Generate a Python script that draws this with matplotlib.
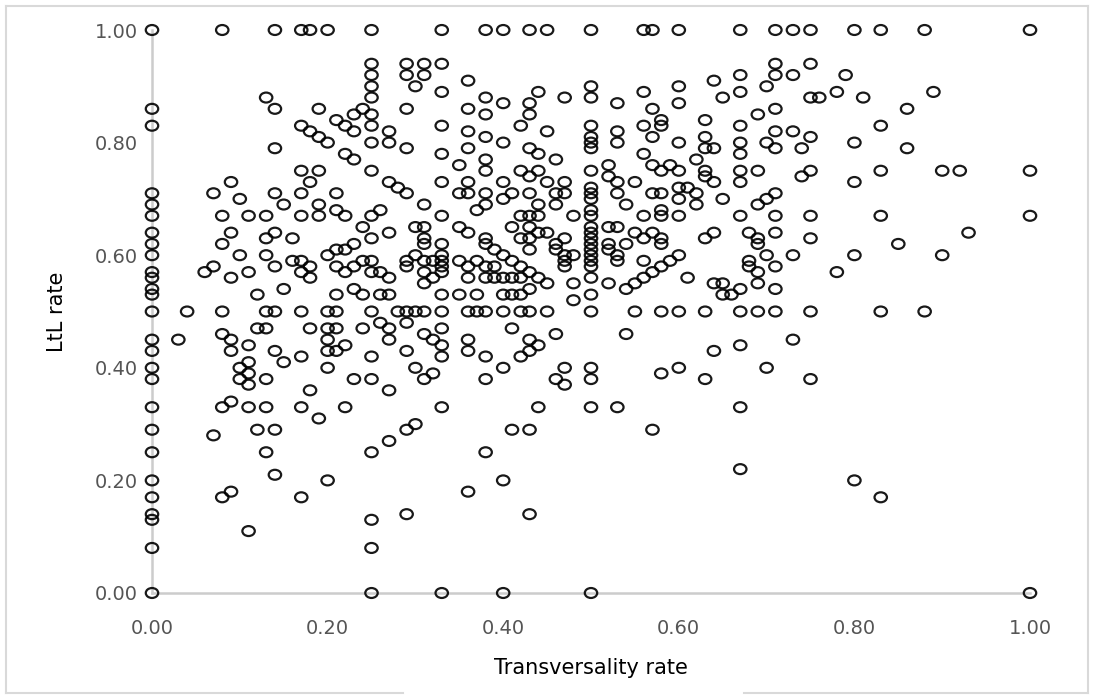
import numpy as np
import matplotlib
matplotlib.use("Agg")
import matplotlib.pyplot as plt
from matplotlib.path import Path
from matplotlib.transforms import Affine2D
from matplotlib.lines import Line2D

# LtL rate of the cases with transversality rate 0
ltl_at_trans_zero = [1.00, 0.86, 0.83, 0.71, 0.69, 0.67, 0.64, 0.62, 0.60, 0.57, 0.56,
                     0.54, 0.53, 0.50, 0.45, 0.43, 0.40, 0.38, 0.33, 0.29, 0.25, 0.20,
                     0.17, 0.14, 0.13, 0.08, 0.00]

# transversality rate of the cases on the horizontal rows
trans_at_ltl_one = [0.08, 0.14, 0.17, 0.18, 0.20, 0.25, 0.33, 0.38, 0.40, 0.43, 0.45,
                    0.50, 0.56, 0.57, 0.60, 0.67, 0.71, 0.73, 0.75, 0.80, 0.83, 0.88, 1.00]
trans_at_ltl_zero = [0.25, 0.33, 0.40, 0.50, 1.00]
trans_at_ltl_half = [0.04, 0.08, 0.13, 0.14, 0.17, 0.20, 0.21, 0.25, 0.28, 0.29, 0.30,
                     0.31, 0.33, 0.36, 0.37, 0.38, 0.40, 0.42, 0.43, 0.45, 0.50, 0.55,
                     0.58, 0.60, 0.63, 0.67, 0.69, 0.71, 0.75, 0.83, 0.88]
trans_at_ltl_two_thirds = [0.08, 0.11, 0.13, 0.17, 0.19, 0.22, 0.25, 0.33, 0.42, 0.43,
                           0.44, 0.48, 0.50, 0.56, 0.58, 0.60, 0.67, 0.71, 0.75, 0.83, 1.00]

# remaining cases as (transversality, LtL)
left_points = [
    (0.25, 0.94), (0.25, 0.92), (0.25, 0.90), (0.25, 0.88), (0.25, 0.85), (0.25, 0.83),
    (0.25, 0.80), (0.25, 0.75), (0.29, 0.94), (0.29, 0.92), (0.31, 0.94), (0.31, 0.92),
    (0.30, 0.90), (0.13, 0.88), (0.14, 0.86), (0.19, 0.86), (0.24, 0.86), (0.23, 0.85),
    (0.21, 0.84), (0.22, 0.83), (0.23, 0.82), (0.29, 0.86), (0.27, 0.82), (0.27, 0.80),
    (0.29, 0.79), (0.17, 0.83), (0.18, 0.82), (0.19, 0.81), (0.20, 0.80), (0.14, 0.79),
    (0.22, 0.78), (0.23, 0.77), (0.17, 0.75), (0.19, 0.75), (0.18, 0.73), (0.09, 0.73),
    (0.27, 0.73), (0.28, 0.72), (0.29, 0.71), (0.31, 0.69), (0.07, 0.71), (0.10, 0.70),
    (0.14, 0.71), (0.15, 0.69), (0.17, 0.71), (0.19, 0.69), (0.21, 0.71), (0.21, 0.68),
    (0.26, 0.68), (0.09, 0.64), (0.08, 0.62), (0.13, 0.63), (0.14, 0.64), (0.16, 0.63),
    (0.10, 0.60), (0.13, 0.60), (0.06, 0.57), (0.07, 0.58), (0.09, 0.56), (0.11, 0.57),
    (0.12, 0.53), (0.14, 0.58), (0.15, 0.54), (0.16, 0.59), (0.17, 0.59), (0.17, 0.57),
    (0.18, 0.58), (0.18, 0.56), (0.20, 0.60), (0.21, 0.61), (0.22, 0.61), (0.23, 0.62),
    (0.24, 0.65), (0.25, 0.63), (0.27, 0.64), (0.21, 0.58), (0.22, 0.57), (0.23, 0.58),
    (0.24, 0.59), (0.25, 0.59), (0.25, 0.57), (0.26, 0.57), (0.27, 0.56), (0.27, 0.53),
    (0.26, 0.53), (0.24, 0.53), (0.23, 0.54), (0.21, 0.53), (0.30, 0.65), (0.31, 0.65),
    (0.31, 0.63), (0.31, 0.62), (0.30, 0.60), (0.29, 0.59), (0.29, 0.58), (0.31, 0.59),
    (0.32, 0.59), (0.31, 0.57), (0.31, 0.55), (0.32, 0.56), (0.03, 0.45), (0.12, 0.47),
    (0.13, 0.47), (0.18, 0.47), (0.20, 0.47), (0.21, 0.47), (0.24, 0.47), (0.26, 0.48),
    (0.27, 0.47), (0.29, 0.48), (0.08, 0.46), (0.09, 0.45), (0.09, 0.43), (0.11, 0.44),
    (0.14, 0.43), (0.15, 0.41), (0.17, 0.42), (0.20, 0.45), (0.20, 0.43), (0.21, 0.43),
    (0.22, 0.44), (0.25, 0.42), (0.27, 0.45), (0.29, 0.43), (0.31, 0.46), (0.32, 0.45),
    (0.11, 0.41), (0.10, 0.40), (0.11, 0.39), (0.10, 0.38), (0.11, 0.37), (0.13, 0.38),
    (0.20, 0.40), (0.18, 0.36), (0.23, 0.38), (0.25, 0.38), (0.27, 0.36), (0.30, 0.40),
    (0.31, 0.38), (0.32, 0.39), (0.09, 0.34), (0.08, 0.33), (0.11, 0.33), (0.13, 0.33),
    (0.17, 0.33), (0.19, 0.31), (0.22, 0.33), (0.07, 0.28), (0.12, 0.29), (0.14, 0.29),
    (0.13, 0.25), (0.25, 0.25), (0.27, 0.27), (0.29, 0.29), (0.30, 0.30), (0.14, 0.21),
    (0.20, 0.20), (0.08, 0.17), (0.09, 0.18), (0.17, 0.17), (0.29, 0.14), (0.25, 0.13),
    (0.11, 0.11), (0.25, 0.08),
]

middle_points = [
    (0.33, 0.94), (0.36, 0.91), (0.33, 0.89), (0.38, 0.88), (0.40, 0.87), (0.44, 0.89),
    (0.43, 0.87), (0.43, 0.85), (0.47, 0.88), (0.50, 0.90), (0.50, 0.88), (0.53, 0.87),
    (0.56, 0.89), (0.57, 0.86), (0.60, 0.90), (0.60, 0.87), (0.64, 0.91), (0.65, 0.88),
    (0.36, 0.86), (0.38, 0.85), (0.33, 0.83), (0.36, 0.82), (0.38, 0.81), (0.40, 0.80),
    (0.42, 0.83), (0.45, 0.82), (0.50, 0.83), (0.50, 0.81), (0.50, 0.80), (0.50, 0.79),
    (0.53, 0.82), (0.53, 0.80), (0.56, 0.83), (0.58, 0.84), (0.58, 0.83), (0.57, 0.81),
    (0.60, 0.80), (0.63, 0.84), (0.63, 0.81), (0.63, 0.79), (0.64, 0.79), (0.33, 0.78),
    (0.36, 0.79), (0.35, 0.76), (0.38, 0.77), (0.38, 0.75), (0.43, 0.79), (0.44, 0.78),
    (0.46, 0.77), (0.42, 0.75), (0.43, 0.74), (0.44, 0.75), (0.50, 0.75), (0.52, 0.76),
    (0.56, 0.78), (0.57, 0.76), (0.58, 0.75), (0.59, 0.76), (0.60, 0.75), (0.62, 0.77),
    (0.63, 0.75), (0.63, 0.74), (0.64, 0.73), (0.33, 0.73), (0.36, 0.73), (0.36, 0.71),
    (0.35, 0.71), (0.38, 0.71), (0.38, 0.69), (0.40, 0.73), (0.40, 0.70), (0.41, 0.71),
    (0.43, 0.71), (0.45, 0.73), (0.46, 0.71), (0.47, 0.73), (0.47, 0.71), (0.44, 0.69),
    (0.46, 0.69), (0.50, 0.72), (0.50, 0.71), (0.50, 0.70), (0.52, 0.74), (0.53, 0.73),
    (0.53, 0.71), (0.54, 0.69), (0.55, 0.73), (0.57, 0.71), (0.58, 0.71), (0.60, 0.72),
    (0.60, 0.70), (0.61, 0.72), (0.62, 0.71), (0.62, 0.69), (0.65, 0.70), (0.37, 0.68),
    (0.50, 0.68), (0.58, 0.68), (0.35, 0.65), (0.36, 0.64), (0.41, 0.65), (0.43, 0.65),
    (0.44, 0.64), (0.45, 0.64), (0.42, 0.63), (0.43, 0.63), (0.38, 0.63), (0.38, 0.62),
    (0.39, 0.61), (0.40, 0.60), (0.41, 0.59), (0.42, 0.58), (0.43, 0.57), (0.44, 0.56),
    (0.45, 0.55), (0.46, 0.62), (0.46, 0.61), (0.47, 0.63), (0.47, 0.60), (0.47, 0.59),
    (0.47, 0.58), (0.48, 0.60), (0.43, 0.61), (0.50, 0.65), (0.50, 0.64), (0.50, 0.63),
    (0.50, 0.62), (0.50, 0.61), (0.50, 0.60), (0.50, 0.59), (0.50, 0.58), (0.50, 0.56),
    (0.50, 0.53), (0.52, 0.65), (0.53, 0.65), (0.52, 0.62), (0.52, 0.61), (0.53, 0.60),
    (0.53, 0.59), (0.54, 0.62), (0.55, 0.64), (0.56, 0.63), (0.57, 0.64), (0.58, 0.63),
    (0.58, 0.62), (0.56, 0.59), (0.60, 0.60), (0.59, 0.59), (0.58, 0.58), (0.57, 0.57),
    (0.56, 0.56), (0.55, 0.55), (0.54, 0.54), (0.63, 0.63), (0.64, 0.64), (0.61, 0.56),
    (0.64, 0.55), (0.65, 0.55), (0.65, 0.53), (0.66, 0.53), (0.33, 0.62), (0.33, 0.60),
    (0.33, 0.59), (0.33, 0.58), (0.33, 0.57), (0.33, 0.53), (0.35, 0.59), (0.36, 0.58),
    (0.36, 0.56), (0.37, 0.59), (0.38, 0.58), (0.39, 0.58), (0.38, 0.56), (0.39, 0.56),
    (0.40, 0.56), (0.41, 0.56), (0.42, 0.56), (0.37, 0.53), (0.35, 0.53), (0.40, 0.53),
    (0.41, 0.53), (0.42, 0.53), (0.43, 0.54), (0.48, 0.55), (0.48, 0.52), (0.52, 0.55),
    (0.33, 0.47), (0.41, 0.47), (0.46, 0.46), (0.54, 0.46), (0.33, 0.44), (0.33, 0.42),
    (0.36, 0.45), (0.36, 0.43), (0.38, 0.42), (0.43, 0.45), (0.44, 0.44), (0.43, 0.43),
    (0.42, 0.42), (0.40, 0.40), (0.38, 0.38), (0.47, 0.40), (0.46, 0.38), (0.47, 0.37),
    (0.50, 0.40), (0.50, 0.38), (0.64, 0.43), (0.60, 0.40), (0.58, 0.39), (0.63, 0.38),
    (0.33, 0.33), (0.44, 0.33), (0.50, 0.33), (0.53, 0.33), (0.41, 0.29), (0.43, 0.29),
    (0.57, 0.29), (0.38, 0.25), (0.40, 0.20), (0.36, 0.18), (0.43, 0.14),
]

right_points = [
    (0.71, 0.94), (0.71, 0.92), (0.73, 0.92), (0.75, 0.94), (0.79, 0.92), (0.67, 0.92),
    (0.67, 0.89), (0.70, 0.90), (0.75, 0.88), (0.76, 0.88), (0.78, 0.89), (0.81, 0.88),
    (0.89, 0.89), (0.86, 0.86), (0.69, 0.85), (0.71, 0.86), (0.67, 0.83), (0.83, 0.83),
    (0.71, 0.82), (0.73, 0.82), (0.75, 0.81), (0.67, 0.80), (0.67, 0.78), (0.70, 0.80),
    (0.71, 0.79), (0.74, 0.79), (0.80, 0.80), (0.86, 0.79), (0.67, 0.75), (0.69, 0.75),
    (0.75, 0.75), (0.74, 0.74), (0.83, 0.75), (0.90, 0.75), (0.92, 0.75), (1.00, 0.75),
    (0.67, 0.73), (0.80, 0.73), (0.71, 0.71), (0.70, 0.70), (0.69, 0.69), (0.68, 0.64),
    (0.69, 0.63), (0.69, 0.62), (0.71, 0.64), (0.75, 0.63), (0.93, 0.64), (0.85, 0.62),
    (0.70, 0.60), (0.73, 0.60), (0.80, 0.60), (0.90, 0.60), (0.68, 0.59), (0.68, 0.58),
    (0.69, 0.57), (0.71, 0.58), (0.78, 0.57), (0.69, 0.55), (0.67, 0.54), (0.71, 0.54),
    (0.73, 0.45), (0.67, 0.44), (0.70, 0.40), (0.75, 0.38), (0.67, 0.33), (0.67, 0.22),
    (0.80, 0.20), (0.83, 0.17),
]

# put all cases together
trans = ([0.0] * len(ltl_at_trans_zero) + trans_at_ltl_one + trans_at_ltl_zero
         + trans_at_ltl_half + trans_at_ltl_two_thirds)
ltl = (ltl_at_trans_zero + [1.0] * len(trans_at_ltl_one) + [0.0] * len(trans_at_ltl_zero)
       + [0.5] * len(trans_at_ltl_half) + [0.67] * len(trans_at_ltl_two_thirds))
for pts in (left_points, middle_points, right_points):
    trans += [p[0] for p in pts]
    ltl += [p[1] for p in pts]

# slightly wide open circle like the original export
ellipse = Path.unit_circle().transformed(Affine2D().scale(1.25, 1.0))

fig = plt.figure(figsize=(10.95, 6.97), dpi=100)
ax = fig.add_axes([152 / 1095, 104 / 697, 878 / 1095, 563 / 697])

ax.scatter(trans, ltl, marker=ellipse, s=80, facecolors="none",
           edgecolors="black", linewidths=1.6, alpha=0.9, clip_on=False, zorder=3)

ax.set_xlim(0, 1)
ax.set_ylim(0, 1)
ticks = [0.0, 0.2, 0.4, 0.6, 0.8, 1.0]
ax.set_xticks(ticks)
ax.set_yticks(ticks)
ax.set_xticklabels([f"{t:.2f}" for t in ticks])
ax.set_yticklabels([f"{t:.2f}" for t in ticks])
ax.tick_params(length=0, labelsize=14, labelcolor="#555555")
ax.tick_params(axis="x", pad=19)
ax.tick_params(axis="y", pad=10)

for side in ["top", "right"]:
    ax.spines[side].set_visible(False)
for side in ["left", "bottom"]:
    ax.spines[side].set_color("#cccccc")
    ax.spines[side].set_linewidth(1.8)

ax.set_xlabel("Transversality rate", fontsize=15, color="black", labelpad=14)
ax.set_ylabel("LtL rate", fontsize=15, color="black", labelpad=20)

# light frame round the picture, open at the bottom middle
frame = "#d9d9d9"
fig.add_artist(Line2D([6 / 1095, 6 / 1095], [4 / 697, 691 / 697], color=frame, lw=1.5))
fig.add_artist(Line2D([6 / 1095, 1088 / 1095], [691 / 697, 691 / 697], color=frame, lw=1.5))
fig.add_artist(Line2D([1088 / 1095, 1088 / 1095], [4 / 697, 691 / 697], color=frame, lw=1.5))
fig.add_artist(Line2D([6 / 1095, 403 / 1095], [4 / 697, 4 / 697], color=frame, lw=1.5))
fig.add_artist(Line2D([744 / 1095, 1088 / 1095], [4 / 697, 4 / 697], color=frame, lw=1.5))

fig.savefig("out.png", dpi=100, facecolor="white")
